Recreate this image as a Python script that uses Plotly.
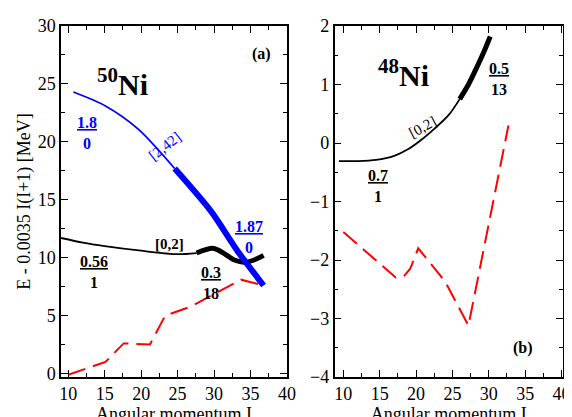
import plotly.graph_objects as go

# panel (a) 50Ni
a_blue_thin_I = [10.7, 15.1, 19.6, 24.6]
a_blue_thin_E = [24.3, 23.1, 21.1, 17.7]
a_blue_thick_I = [24.6, 29.6, 33.2, 36.8]
a_blue_thick_E = [17.7, 14.0, 10.6, 7.6]
a_black_thin_I = [9.0, 12.0, 15.0, 20.0, 25.0, 27.6]
a_black_thin_E = [11.7, 11.3, 11.0, 10.6, 10.3, 10.4]
a_black_thick_I = [27.6, 30.0, 32.8, 34.1, 35.5, 36.8]
a_black_thick_E = [10.4, 10.8, 9.8, 9.6, 9.8, 10.2]
a_red_I = [10.0, 15.1, 17.6, 21.2, 23.3, 26.9, 33.7, 36.8]
a_red_E = [-0.1, 1.0, 2.6, 2.5, 5.0, 5.8, 8.1, 7.6]

# panel (b) 48Ni
b_black_thin_I = [9.4, 12.0, 14.5, 17.0, 19.0, 21.0, 22.5, 24.5, 26.0]
b_black_thin_E = [-0.31, -0.31, -0.29, -0.22, -0.1, 0.08, 0.24, 0.48, 0.75]
b_black_thick_I = [26.0, 27.2, 28.3, 29.3, 30.2]
b_black_thick_E = [0.75, 1.0, 1.28, 1.55, 1.82]
b_red_I = [10.0, 17.2, 18.3, 19.2, 20.3, 24.0, 27.2, 32.7]
b_red_E = [-1.52, -2.30, -2.28, -2.15, -1.8, -2.37, -3.12, 0.3]

FONT = "Liberation Serif, Times New Roman, serif"

fig = go.Figure()


def line(x, y, color, width, xa, ya, dash="solid", shape="spline"):
    fig.add_trace(go.Scatter(x=x, y=y, mode="lines", xaxis=xa, yaxis=ya,
                             line=dict(color=color, width=width, dash=dash, shape=shape,
                                       smoothing=0.8),
                             showlegend=False, hoverinfo="skip"))


line(a_red_I, a_red_E, "#ff0000", 2, "x", "y", dash="18px,8px", shape="linear")
line(a_black_thin_I, a_black_thin_E, "black", 1.8, "x", "y")
line(a_black_thick_I, a_black_thick_E, "black", 5, "x", "y")
line(a_blue_thin_I, a_blue_thin_E, "#0000ff", 1.8, "x", "y")
line(a_blue_thick_I, a_blue_thick_E, "#0000ff", 6, "x", "y")

line(b_red_I, b_red_E, "#ff0000", 2, "x2", "y2", dash="18px,8px", shape="linear")
line(b_black_thin_I, b_black_thin_E, "black", 1.8, "x2", "y2")
line(b_black_thick_I, b_black_thick_E, "black", 5, "x2", "y2")


def ann(text, x, y, xref, yref, size=15, color="black", angle=0):
    fig.add_annotation(text=text, x=x, y=y, xref=xref, yref=yref, showarrow=False,
                       font=dict(family=FONT, size=size, color=color), textangle=angle)


def frac(num, den, x, y, xref, yref, color="black"):
    ann(f"<b><u>{num}</u><br>{den}</b>", x, y, xref, yref, size=16, color=color)


ann("<b><sup>50</sup>Ni</b>", 17.5, 25.2, "x", "y", size=30)
ann("<b>(a)</b>", 36.5, 27.6, "x", "y", size=16)
frac("1.8", "0", 12.6, 20.8, "x", "y", color="#0000ff")
ann("[2,42]", 23.3, 19.6, "x", "y", size=15, color="#0000ff", angle=-38)
frac("1.87", "0", 34.8, 11.8, "x", "y", color="#0000ff")
ann("<b>[0,2]</b>", 23.9, 11.2, "x", "y", size=15)
frac("0.56", "1", 13.5, 8.8, "x", "y")
frac("0.3", "18", 29.6, 7.8, "x", "y")

ann("<b><sup>48</sup>Ni</b>", 18.3, 1.2, "x2", "y2", size=30)
ann("<b>(b)</b>", 34.7, -3.5, "x2", "y2", size=16)
ann("[0,2]", 20.9, 0.28, "x2", "y2", size=15, angle=-28)
frac("0.7", "1", 14.7, -0.74, "x2", "y2")
frac("0.5", "13", 31.4, 1.1, "x2", "y2")

axis_common = dict(showline=True, linecolor="black", linewidth=1.5, mirror="ticks",
                   ticks="inside", ticklen=7, tickwidth=1.3, tickcolor="black",
                   showgrid=False, zeroline=False,
                   tickfont=dict(family=FONT, size=18, color="black"))
xminor = dict(ticks="inside", ticklen=4, tickcolor="black", dtick=2.5)

fig.update_layout(
    width=572, height=417,
    font=dict(family=FONT, color="black"),
    margin=dict(l=53, r=8, t=15, b=47),
    paper_bgcolor="white", plot_bgcolor="white",
    xaxis=dict(axis_common, domain=[0, 0.45], range=[9, 40], dtick=5, tick0=0,
               minor=xminor, anchor="y",
               title=dict(text="Angular momentum I", font=dict(family=FONT, size=18), standoff=0)),
    yaxis=dict(axis_common, range=[-0.3, 30], dtick=5, tick0=0, anchor="x",
               minor=dict(ticks="inside", ticklen=4, tickcolor="black", dtick=2.5),
               title=dict(text="E - 0.0035 I(I+1) [MeV]", font=dict(family=FONT, size=18), standoff=2)),
    xaxis2=dict(axis_common, domain=[0.545, 1], range=[8.8, 40.2], dtick=5, tick0=0,
                minor=xminor, anchor="y2",
                title=dict(text="Angular momentum I", font=dict(family=FONT, size=18), standoff=0)),
    yaxis2=dict(axis_common, range=[-4, 2], dtick=1, tick0=0, anchor="x2",
                minor=dict(ticks="inside", ticklen=4, tickcolor="black", dtick=0.5)),
)

fig.write_html("out.html")
